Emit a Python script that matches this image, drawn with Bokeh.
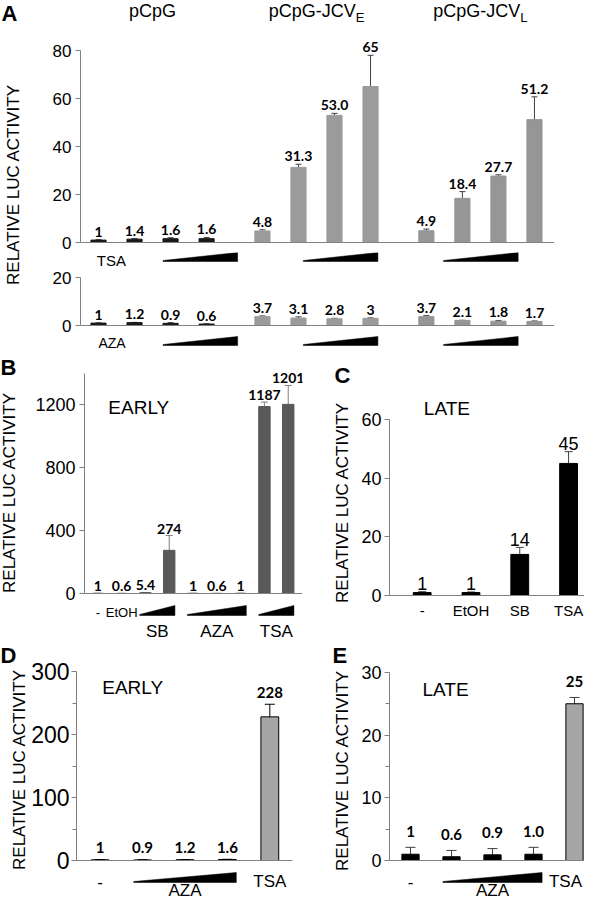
import math
from bokeh.plotting import figure
from bokeh.models import (Range1d, Label, Span, Whisker, TeeHead, ColumnDataSource, FixedTicker)
from bokeh.layouts import row, column
from bokeh.embed import file_html
from bokeh.resources import INLINE
from bokeh.core.properties import value

# ---------------- data ----------------
a_constructs = ["pCpG", "pCpG-JCV", "pCpG-JCV"]
a_subscripts = ["", "E", "L"]
a_tsa_vals = [[1, 1.4, 1.6, 1.6], [4.8, 31.3, 53.0, 65], [4.9, 18.4, 27.7, 51.2]]
a_tsa_errs = [[0.2, 0.2, 0.4, 0.5], [0.5, 1.3, 0.8, 13.0], [0.7, 2.8, 0.5, 9.5]]
a_tsa_text = [["1", "1.4", "1.6", "1.6"], ["4.8", "31.3", "53.0", "65"], ["4.9", "18.4", "27.7", "51.2"]]
a_aza_vals = [[1, 1.2, 0.9, 0.6], [3.7, 3.1, 2.8, 3], [3.7, 2.1, 1.8, 1.7]]
a_aza_errs = [[0.1, 0.1, 0.3, 0.1], [0.3, 0.5, 0.2, 0.2], [0.4, 0.1, 0.3, 0.2]]
a_aza_text = [["1", "1.2", "0.9", "0.6"], ["3.7", "3.1", "2.8", "3"], ["3.7", "2.1", "1.8", "1.7"]]
a_top_ticks = [0, 20, 40, 60, 80]
a_bot_ticks = [0, 20]

b_groups = ["-", "EtOH", "SB", "AZA", "TSA"]
b_group_sizes = [1, 1, 2, 3, 2]
b_vals = [1, 0.6, 5.4, 274, 1, 0.6, 1, 1187, 1201]
b_errs = [0.5, 0.3, 1.0, 94, 0.5, 0.3, 0.5, 28, 120]
b_text = ["1", "0.6", "5.4", "274", "1", "0.6", "1", "1187", "1201"]
b_ticks = [0, 400, 800, 1200]

c_cats = ["-", "EtOH", "SB", "TSA"]
c_vals = [1, 1, 14, 45]
c_errs = [0.3, 0.2, 2.4, 4.0]
c_text = ["1", "1", "14", "45"]
c_ticks = [0, 20, 40, 60]

d_vals = [1, 0.9, 1.2, 1.6, 228]
d_errs = [0.2, 0.2, 0.2, 0.3, 20]
d_text = ["1", "0.9", "1.2", "1.6", "228"]
d_ticks = [0, 100, 200, 300]
d_minor = [50, 150, 250]

e_vals = [1, 0.6, 0.9, 1.0, 25]
e_errs = [1.1, 1.0, 1.0, 1.1, 1.0]
e_text = ["1", "0.6", "0.9", "1.0", "25"]
e_ticks = [0, 10, 20, 30]
e_minor = [5, 15, 25]

ylabel = "RELATIVE LUC ACTIVITY"

# ---------------- styling helpers ----------------
SANS = "Liberation Sans"
NUMF = "Lato"
AX = "#808080"
ARIAL_W = {"p": .556, "C": .722, "G": .778, "-": .333, "J": .5, "V": .667, "E": .667, "L": .556}


def text_w(s, size):
    return sum(ARIAL_W.get(ch, .6) for ch in s) * size


def base_fig(W, H, xr, yr, **kw):
    p = figure(width=W, height=H, x_range=xr, y_range=yr, output_backend="svg",
               toolbar_location=None, title=None, outline_line_color=None, **kw)
    p.grid.visible = False
    return p


def panel(W, H, px0, py0, fl, fr, xref_page, xppu, y0_page, yppu, ymax, ticks, minor=None,
          tick_size="18px", standoff=4):
    p = base_fig(W, H,
                 Range1d((fl - xref_page) / xppu, (fr - xref_page) / xppu),
                 Range1d((y0_page - (py0 + H)) / yppu, (y0_page - py0) / yppu),
                 x_axis_location=None, y_axis_location="left",
                 min_border_left=fl - px0, min_border_right=px0 + W - fr,
                 min_border_top=0, min_border_bottom=0)
    p.extra_x_ranges = {"pgx": Range1d(fl, fr)}
    p.extra_y_ranges = {"pgy": Range1d(py0 + H, py0)}
    ax = p.yaxis[0]
    ax.bounds = (0, ymax)
    ax.ticker = FixedTicker(ticks=ticks, minor_ticks=minor or [])
    ax.axis_line_color = AX
    ax.major_tick_line_color = AX
    ax.minor_tick_line_color = AX
    ax.major_tick_out = 5
    ax.major_tick_in = 0
    ax.minor_tick_out = 4
    ax.minor_tick_in = 0
    ax.major_label_text_font = SANS
    ax.major_label_text_font_size = tick_size
    ax.major_label_text_color = "black"
    ax.major_label_standoff = standoff
    p.add_layout(Span(location=0, dimension="width", line_color=AX, line_width=1))
    return p


def strip(W, H, px0, py0, xref_page=None, xppu=None):
    if xref_page is None:
        xr = Range1d(px0, px0 + W)
    else:
        xr = Range1d((px0 - xref_page) / xppu, (px0 + W - xref_page) / xppu)
    p = base_fig(W, H, xr, Range1d(py0 + H, py0), x_axis_location=None, y_axis_location=None,
                 min_border=0)
    p.extra_x_ranges = {"pgx": Range1d(px0, px0 + W)}
    p.extra_y_ranges = {"pgy": Range1d(py0 + H, py0)}
    return p


def lab(p, x, y, text, size, font=SANS, bold=False, align="left", baseline="middle", angle=0.0):
    p.add_layout(Label(x=x, y=y, x_range_name="pgx", y_range_name="pgy", text=text,
                       text_font=font, text_font_size=size,
                       text_font_style="bold" if bold else "normal",
                       text_align=align, text_baseline=baseline, angle=angle, text_color="black"))


def bars(p, xs, vals, width, colors, line_color=None):
    src = ColumnDataSource(dict(x=xs, top=vals, c=colors))
    p.vbar(x="x", top="top", bottom=0, width=width, fill_color="c",
           line_color=line_color if line_color else "c", line_width=1, source=src)


def errbars(p, xs, vals, errs, color, head, clip0=False):
    lo = [max(v - e, 0) if clip0 else v - e for v, e in zip(vals, errs)]
    up = [v + e for v, e in zip(vals, errs)]
    src = ColumnDataSource(dict(x=xs, lo=lo, up=up))
    p.add_layout(Whisker(source=src, base="x", lower="lo", upper="up", line_color=color, line_width=1,
                         upper_head=TeeHead(size=head, line_color=color, line_width=1),
                         lower_head=TeeHead(size=head, line_color=color, line_width=1)))


def value_labels(p, xs, vals, errs, texts, off, font, size, bold=True):
    p.text(x=xs, y=[v + e for v, e in zip(vals, errs)], text=texts, text_align="center",
           text_baseline="alphabetic", y_offset=-off, text_font=value(font),
           text_font_size=size, text_font_style="bold" if bold else "normal", text_color="black")


def wedge(p, x0, x1, y_bot, y_top):
    p.patch([x0, x1, x1, x0], [y_bot, y_bot, y_top, y_bot - 1], y_range_name="pgy",
            fill_color="black", line_color="black", line_width=0.5)


def cat_text(p, xs, y, texts, size, font=SANS, x_offset=0):
    p.text(x=xs, y=[y] * len(xs), text=texts, y_range_name="pgy", text_align="center",
           text_baseline="middle", text_font=value(font), text_font_size=size, text_color="black",
           x_offset=x_offset)


# ---------------- panel A ----------------
GSTEP = 4.55
BW_A = 0.42
A_XREF, A_XPPU = 106, 36.03
a_x = [[g * GSTEP + i for i in range(4)] for g in range(3)]
a_colors = ["#1a1a1a", "#9b9b9b", "#969696"]

sA = strip(30, 350, 8, 8)
lab(sA, 9, 8, "A", "22px", bold=True, baseline="top")
lab(sA, 21, 192, ylabel, "17px", align="center", angle=math.pi / 2)

pa = panel(554, 252, 38, 8, 88, 562, A_XREF, A_XPPU, 250, 2.4, 80, a_top_ticks, tick_size="17px")
sTSA = strip(554, 16, 38, 260, A_XREF, A_XPPU)
pb_ = panel(554, 67, 38, 276, 88, 562, A_XREF, A_XPPU, 333, 2.4, 20, a_bot_ticks, tick_size="17px")
sAZA = strip(554, 15, 38, 343, A_XREF, A_XPPU)

for g in range(3):
    bars(pa, a_x[g], a_tsa_vals[g], BW_A, [a_colors[g]] * 4)
    errbars(pa, a_x[g], a_tsa_vals[g], a_tsa_errs[g], "#404040", 6)
    value_labels(pa, a_x[g], a_tsa_vals[g], a_tsa_errs[g], a_tsa_text[g], 8, NUMF, "14px")
    wedge(sTSA, a_x[g][1] - BW_A / 2, a_x[g][3] + BW_A / 2, 269, 260)

    bars(pb_, a_x[g], a_aza_vals[g], BW_A, [a_colors[g]] * 4)
    errbars(pb_, a_x[g], a_aza_vals[g], a_aza_errs[g], "#404040", 6)
    value_labels(pb_, a_x[g], a_aza_vals[g], a_aza_errs[g], a_aza_text[g], 8, NUMF, "14px")
    wedge(sAZA, a_x[g][1] - BW_A / 2, a_x[g][3] + BW_A / 2, 353, 344)

    cx = sum(a_x[g]) / 4
    main, sub = a_constructs[g], a_subscripts[g]
    wm, ws = text_w(main, 18), text_w(sub, 13)
    pa.text(x=[cx], y=[8], text=[main], y_range_name="pgy", text_align="left", text_baseline="top",
            x_offset=-(wm + ws) / 2, text_font=value(SANS), text_font_size="18px", text_color="black")
    if sub:
        pa.text(x=[cx], y=[17], text=[sub], y_range_name="pgy", text_align="left", text_baseline="top",
                x_offset=(wm - ws) / 2, text_font=value(SANS), text_font_size="13px", text_color="black")

lab(sTSA, 57, 268, "TSA", "15px")
lab(sAZA, 59, 350.5, "AZA", "14px")

# ---------------- panel B ----------------
b_x = list(range(len(b_vals)))
BW_B = 0.48
sB = strip(32, 292, 8, 358)
lab(sB, 8, 375, "B", "22px", bold=True)
lab(sB, 17, 500, ylabel, "17px", align="center", angle=math.pi / 2)
pB = panel(290, 292, 40, 358, 81, 310, 95, 25, 601, 0.1575, 1400, b_ticks)
bars(pB, b_x, b_vals, BW_B, ["#595959"] * len(b_vals))
errbars(pB, b_x, b_vals, b_errs, "#7f7f7f", 7)
value_labels(pB, b_x, b_vals, b_errs, b_text, 7, NUMF, "14px")
start = 0
for name, n in zip(b_groups, b_group_sizes):
    xs = b_x[start:start + n]
    if n == 1:
        cat_text(pB, xs, 620, [name], "13px")
    else:
        wedge(pB, xs[0] - BW_B / 2, xs[-1] + BW_B / 2, 623, 613)
        cat_text(pB, [sum(xs) / n], 639, [name], "17px")
    start += n
lab(pB, 138, 415, "EARLY", "19px", align="center")

# ---------------- panel C ----------------
c_x = list(range(len(c_vals)))
sC = strip(36, 292, 330, 358)
lab(sC, 342, 383, "C", "22px", bold=True)
lab(sC, 350, 510, ylabel, "17px", align="center", angle=math.pi / 2)
pC = panel(226, 292, 366, 358, 395, 592, 428, 49.3, 603, 2.935, 60, c_ticks, standoff=3)
bars(pC, c_x, c_vals, 0.365, ["black"] * len(c_vals))
errbars(pC, c_x, c_vals, c_errs, "#404040", 8)
value_labels(pC, c_x, c_vals, c_errs, c_text, 8, SANS, "18px", bold=False)
cat_text(pC, c_x, 618, c_cats, "15px")
lab(pC, 453, 416, "LATE", "19px", align="center")

# ---------------- panel D ----------------
d_x = list(range(len(d_vals)))
BW_D = 0.42
sD = strip(28, 259, 8, 650)
lab(sD, 8, 650, "D", "22px", bold=True, baseline="top")
lab(sD, 27, 777, ylabel, "17px", align="center", angle=math.pi / 2)
pD = panel(294, 259, 36, 650, 81, 300, 105, 43, 868, 0.63, 300, d_ticks, d_minor,
           tick_size="23px", standoff=2)
bars(pD, d_x, d_vals, BW_D, ["black"] * 4 + ["#a6a6a6"], line_color="black")
errbars(pD, d_x, d_vals, d_errs, "black", 10)
value_labels(pD, d_x, d_vals, d_errs, d_text, 12, NUMF, "15px")
cat_text(pD, [d_x[0], d_x[-1]], 889, ["-", "TSA"], "17px")
wedge(pD, d_x[1] - BW_D / 2, d_x[3] + BW_D / 2, 890, 880)
cat_text(pD, [sum(d_x[1:4]) / 3], 898, ["AZA"], "17px")
lab(pD, 138, 695, "EARLY", "19px", align="center")

# ---------------- panel E ----------------
e_x = list(range(len(e_vals)))
BW_E = 0.42
sE = strip(36, 259, 330, 650)
lab(sE, 340, 650, "E", "22px", bold=True, baseline="top")
lab(sE, 350, 778, ylabel, "17px", align="center", angle=math.pi / 2)
pE = panel(226, 259, 366, 650, 397, 592, 418, 41, 868, 6.27, 30, e_ticks, e_minor, standoff=3)
bars(pE, e_x, e_vals, BW_E, ["black"] * 4 + ["#a6a6a6"], line_color="black")
errbars(pE, e_x, e_vals, e_errs, "#404040", 10, clip0=True)
value_labels(pE, e_x, e_vals, e_errs, e_text, 16, NUMF, "15px")
cat_text(pE, [e_x[0]], 889, ["-"], "17px")
cat_text(pE, [e_x[-1]], 889, ["TSA"], "17px", x_offset=-9)
wedge(pE, e_x[1] - BW_E / 2, e_x[3] + BW_E / 2, 890, 880)
cat_text(pE, [sum(e_x[1:4]) / 3], 898, ["AZA"], "17px")
lab(pE, 453, 697, "LATE", "19px", align="center")

layout = column(
    row(sA, column(pa, sTSA, pb_, sAZA)),
    row(sB, pB, sC, pC),
    row(sD, pD, sE, pE),
)
open("out.html", "w").write(file_html(layout, INLINE))
